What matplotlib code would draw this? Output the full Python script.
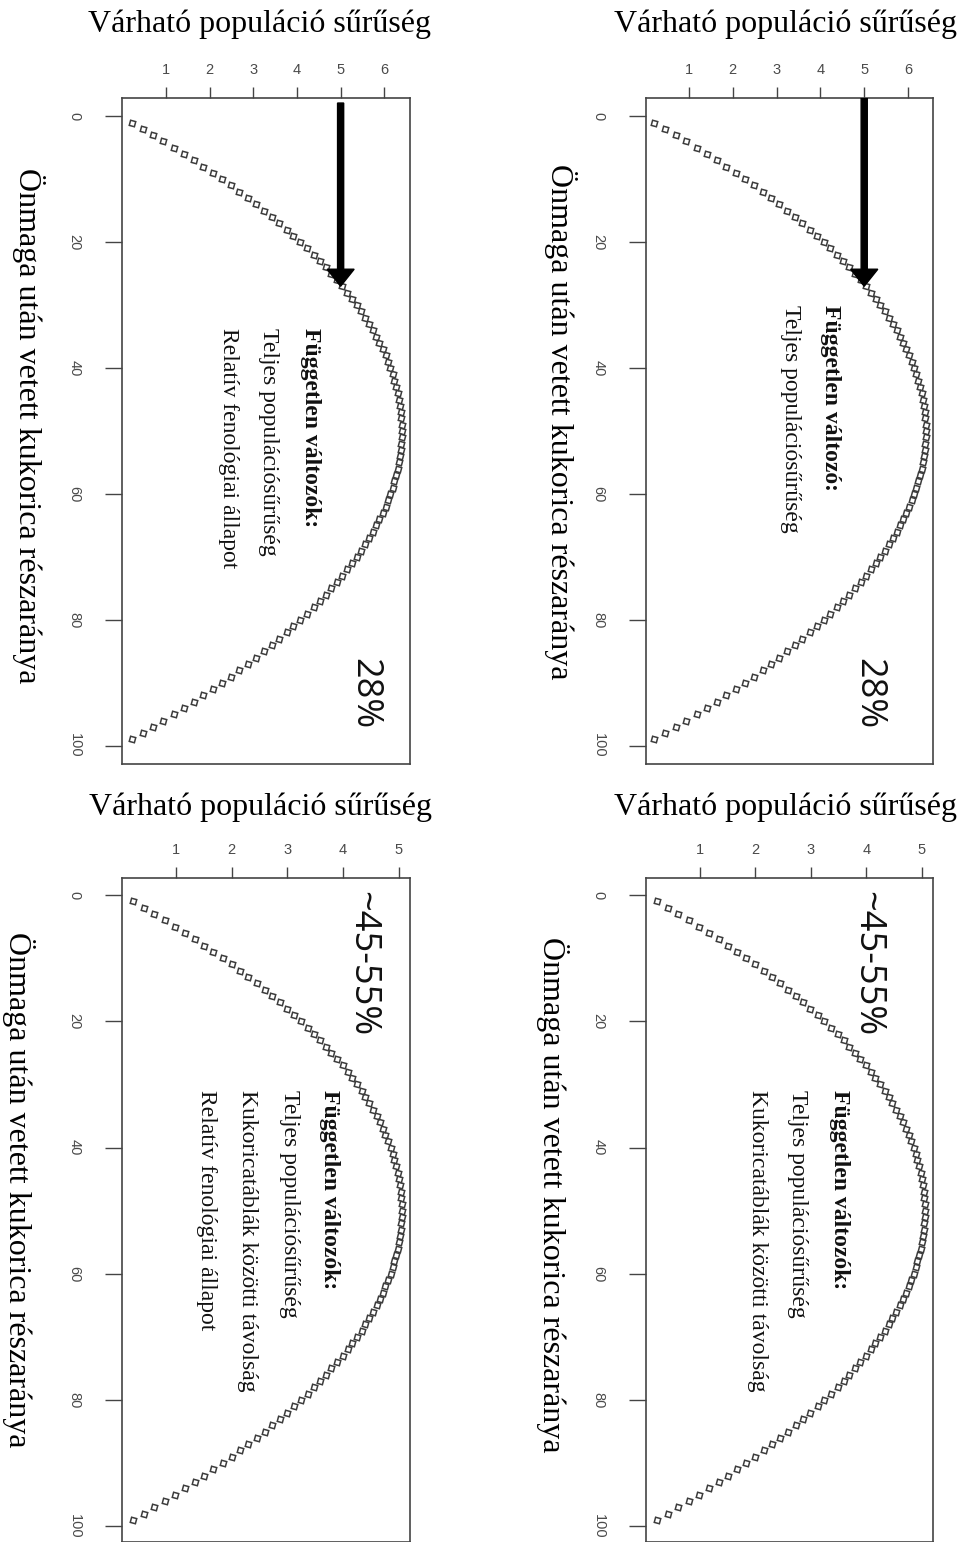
import matplotlib
matplotlib.use('Agg')
import matplotlib.pyplot as plt

# ---------------- data ----------------
proportion = list(range(1, 100))  # Önmaga után vetett kukorica részaránya (%)

density_top = [
    0.21, 0.46, 0.71, 0.94, 1.18, 1.41, 1.63, 1.85, 2.07, 2.28,
    2.48, 2.68, 2.87, 3.06, 3.24, 3.42, 3.59, 3.76, 3.92, 4.08,
    4.23, 4.38, 4.52, 4.66, 4.79, 4.92, 5.04, 5.15, 5.26, 5.37,
    5.47, 5.56, 5.65, 5.74, 5.82, 5.89, 5.96, 6.03, 6.09, 6.14,
    6.19, 6.23, 6.27, 6.31, 6.34, 6.36, 6.38, 6.39, 6.40, 6.40,
    6.40, 6.39, 6.38, 6.36, 6.34, 6.31, 6.27, 6.23, 6.19, 6.14,
    6.09, 6.03, 5.96, 5.89, 5.82, 5.74, 5.65, 5.56, 5.47, 5.37,
    5.26, 5.15, 5.04, 4.92, 4.79, 4.66, 4.52, 4.38, 4.23, 4.08,
    3.92, 3.76, 3.59, 3.42, 3.24, 3.06, 2.87, 2.68, 2.48, 2.28,
    2.07, 1.85, 1.63, 1.41, 1.18, 0.94, 0.71, 0.46, 0.21]

density_bottom = [
    0.23, 0.42, 0.61, 0.80, 0.98, 1.16, 1.34, 1.51, 1.67, 1.84,
    2.00, 2.15, 2.30, 2.45, 2.59, 2.73, 2.86, 2.99, 3.12, 3.24,
    3.36, 3.48, 3.59, 3.69, 3.79, 3.89, 3.99, 4.08, 4.16, 4.25,
    4.33, 4.40, 4.47, 4.54, 4.60, 4.66, 4.71, 4.76, 4.81, 4.85,
    4.89, 4.92, 4.95, 4.98, 5.00, 5.02, 5.03, 5.04, 5.05, 5.05,
    5.05, 5.04, 5.03, 5.02, 5.00, 4.98, 4.95, 4.92, 4.89, 4.85,
    4.81, 4.76, 4.71, 4.66, 4.60, 4.54, 4.47, 4.40, 4.33, 4.25,
    4.16, 4.08, 3.99, 3.89, 3.79, 3.69, 3.59, 3.48, 3.36, 3.24,
    3.12, 2.99, 2.86, 2.73, 2.59, 2.45, 2.30, 2.15, 2.00, 1.84,
    1.67, 1.51, 1.34, 1.16, 0.98, 0.80, 0.61, 0.42, 0.23]

density_ticks_top = [1, 2, 3, 4, 5, 6]
density_ticks_bottom = [1, 2, 3, 4, 5]
proportion_ticks = [0, 20, 40, 60, 80, 100]

title_text = "Várható populáció sűrűség"
ylabel_text = "Önmaga után vetett kukorica részaránya"
pct_top = "28%"
pct_bottom = "~45-55%"
lines_tl = ["Független változók:", "Teljes populációsűrűség", "Relatív fenológiai állapot"]
lines_tr = ["Független változó:", "Teljes populációsűrűség"]
lines_bl = ["Független változók:", "Teljes populációsűrűség",
            "Kukoricatáblák közötti távolság", "Relatív fenológiai állapot"]
lines_br = ["Független változók:", "Teljes populációsűrűség",
            "Kukoricatáblák közötti távolság"]
arrow_density = 5
arrow_target = 27

# ---------------- layout ----------------
W, H = 962, 1542
fig = plt.figure(figsize=(W / 100, H / 100), dpi=100)
fig.patch.set_facecolor('white')

SERIF = 'Liberation Serif'
SANS = 'Liberation Sans'

def px_axes(left, top, right, bottom):
    return fig.add_axes([left / W, 1 - bottom / H, (right - left) / W, (bottom - top) / H])

panels = [
    dict(box=(122, 98, 410, 764), dens=density_top, xlim=(-0.01, 6.59), ylim=(102.9, -2.9),
         xt=density_ticks_top, lines=lines_tl, line_x=[4.30, 3.34, 2.44], line_y=33.6,
         pct=pct_top, pct_x=5.55, pct_y=86.0, arrow_start=-2.1,
         title_xy=(260, 24), ylab_xy=(28, 426)),
    dict(box=(646, 98, 933, 764), dens=density_top, xlim=(0.02, 6.57), ylim=(102.9, -2.9),
         xt=density_ticks_top, lines=lines_tr, line_x=[4.22, 3.31], line_y=30.0,
         pct=pct_top, pct_x=5.09, pct_y=86.0, arrow_start=-2.9,
         title_xy=(786, 24), ylab_xy=(560, 422)),
    dict(box=(122, 878, 410, 1542), dens=density_bottom, xlim=(0.03, 5.20), ylim=(102.5, -2.7),
         xt=density_ticks_bottom, lines=lines_bl, line_x=[3.76, 3.03, 2.29, 1.55], line_y=30.9,
         pct=pct_bottom, pct_x=4.34, pct_y=-0.6, arrow_start=None,
         title_xy=(261, 807), ylab_xy=(18, 1190)),
    dict(box=(646, 878, 933, 1542), dens=density_bottom, xlim=(0.03, 5.20), ylim=(102.5, -2.7),
         xt=density_ticks_bottom, lines=lines_br, line_x=[3.52, 2.76, 2.03], line_y=30.9,
         pct=pct_bottom, pct_x=4.02, pct_y=-0.6, arrow_start=None,
         title_xy=(786, 807), ylab_xy=(552, 1195)),
]

for p in panels:
    ax = px_axes(*p['box'])
    ax.plot(p['dens'], proportion, linestyle='none', marker=(4, 0, 30), markersize=5.4,
            markerfacecolor='none', markeredgecolor='#3c3c3c', markeredgewidth=1.1)
    ax.set_xlim(*p['xlim'])
    ax.set_ylim(*p['ylim'])
    ax.xaxis.tick_top()
    ax.set_xticks(p['xt'])
    ax.set_xticklabels([str(v) for v in p['xt']])
    ax.set_yticks(proportion_ticks)
    ax.set_yticklabels([str(v) for v in proportion_ticks])
    ax.tick_params(axis='x', direction='out', length=8, width=1.0, pad=7,
                   labelsize=10.5, color='#444444', labelcolor='#4a4a4a')
    ax.tick_params(axis='y', direction='out', length=12, width=1.0, pad=17,
                   labelsize=10.5, color='#444444', labelcolor='#4a4a4a')
    for lab in ax.get_xticklabels():
        lab.set_fontfamily(SANS)
    for lab in ax.get_yticklabels():
        lab.set_fontfamily(SANS)
        lab.set_rotation(-90)
        lab.set_va('center')
        lab.set_ha('right')
    for s in ax.spines.values():
        s.set_color('#444444')
        s.set_linewidth(1.2)

    # inner text block
    for i, (txt, lx) in enumerate(zip(p['lines'], p['line_x'])):
        ax.text(lx, p['line_y'], txt, rotation=-90, rotation_mode='anchor',
                ha='left', va='center', fontsize=17, family=SERIF,
                fontweight='bold' if i == 0 else 'normal', color='#111111')
    # percentage
    ax.text(p['pct_x'], p['pct_y'], p['pct'], rotation=-90, rotation_mode='anchor',
            ha='left', va='center', fontsize=26, family='Open Sans', color='#111111')
    # arrow
    if p['arrow_start'] is not None:
        ax.arrow(arrow_density, p['arrow_start'], 0, arrow_target - p['arrow_start'],
                 width=0.14, head_width=0.62, head_length=2.7,
                 length_includes_head=True, color='black', zorder=5)

    # titles and axis labels placed in figure pixels
    tx, ty = p['title_xy']
    fig.text(tx / W, 1 - ty / H, title_text, ha='center', va='center',
             fontsize=23, family=SERIF, color='black')
    lx, ly = p['ylab_xy']
    fig.text(lx / W, 1 - ly / H, ylabel_text, ha='center', va='center', rotation=-90,
             fontsize=23, family=SERIF, color='black')

fig.savefig('out.png', dpi=100, facecolor='white')
